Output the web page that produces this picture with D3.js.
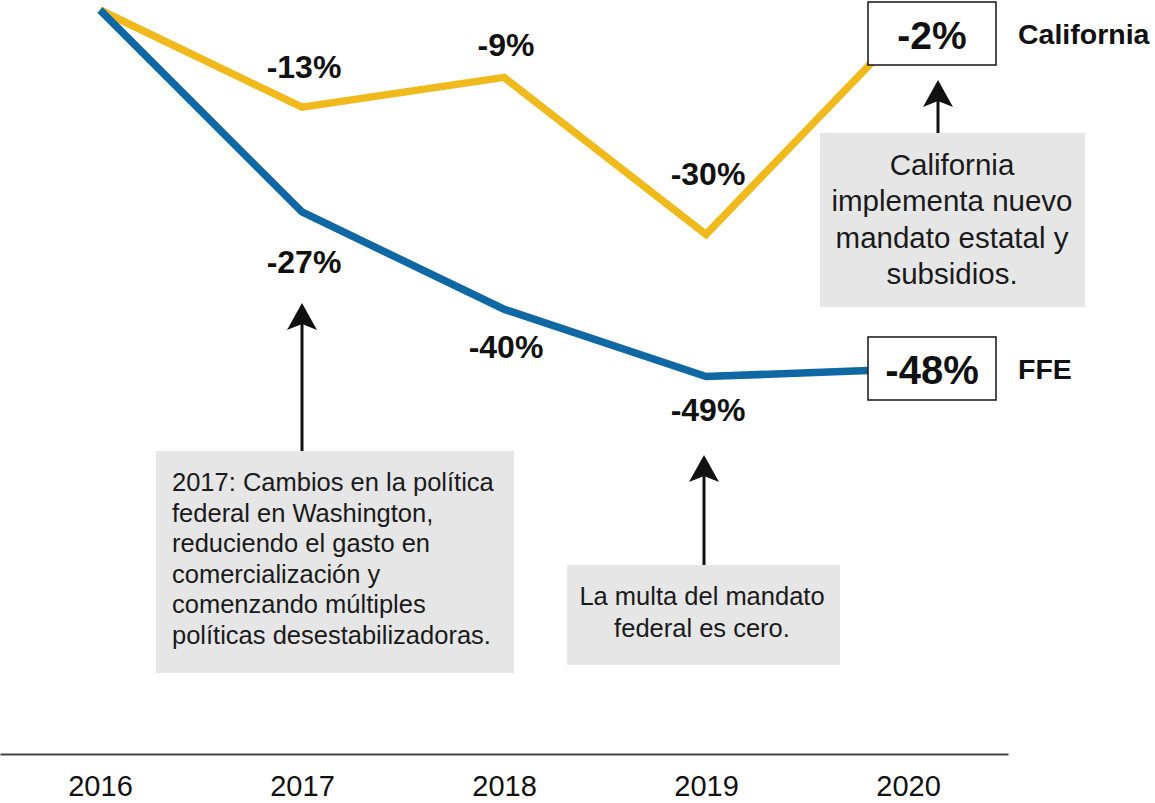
<!DOCTYPE html>
<html>
<head>
<meta charset="utf-8">
<script src="https://cdn.jsdelivr.net/npm/d3@7/dist/d3.min.js"></script>
<style>
  html, body { margin: 0; padding: 0; background: #fff; }
  svg { display: block; font-family: "Liberation Sans", Arial, Helvetica, sans-serif; }
</style>
</head>
<body>
<svg id="chart" width="1155" height="803"></svg>
<script>
const years = ["2016", "2017", "2018", "2019", "2020"];
const seriesNames = ["California", "FFE"];
const californiaValues = [0, -13, -9, -30, -2];
const ffeValues = [0, -27, -40, -49, -48];
const californiaLabels = ["", "-13%", "-9%", "-30%", "-2%"];
const ffeLabels = ["", "-27%", "-40%", "-49%", "-48%"];
const annotationTexts = [
  ["2017: Cambios en la política", "federal en Washington,", "reduciendo el gasto en", "comercialización y", "comenzando múltiples", "políticas desestabilizadoras."],
  ["La multa del mandato", "federal es cero."],
  ["California", "implementa nuevo", "mandato estatal y", "subsidios."]
];

const colors = { California: "#F0BA1C", FFE: "#0F67A4" };
const svg = d3.select("#chart");

const x = d3.scalePoint().domain(years).range([0, 1008]).padding(0.495);
const y = d3.scaleLinear().domain([0, -50]).range([10, 384]);

const line = d3.line().x((d, i) => x(years[i])).y(d => y(d));

// lines
svg.append("path").datum(californiaValues)
  .attr("d", line).attr("fill", "none")
  .attr("stroke", colors.California).attr("stroke-width", 7.5)
  .attr("stroke-linejoin", "miter");
svg.append("path").datum(ffeValues)
  .attr("d", line).attr("fill", "none")
  .attr("stroke", colors.FFE).attr("stroke-width", 7.5)
  .attr("stroke-linejoin", "miter");

// value labels (2017-2019)
const labelOffsetsCal = [0, -40, -32, -60, 0];
const labelOffsetsFfe = [0, 50, 38, 33, 0];
for (let i = 1; i <= 3; i++) {
  svg.append("text")
    .attr("x", x(years[i]) + 2)
    .attr("y", y(californiaValues[i]) + labelOffsetsCal[i])
    .attr("text-anchor", "middle").attr("dominant-baseline", "central")
    .attr("font-weight", "bold").attr("font-size", 32).attr("fill", "#111")
    .text(californiaLabels[i]);
  svg.append("text")
    .attr("x", x(years[i]) + 2)
    .attr("y", y(ffeValues[i]) + labelOffsetsFfe[i])
    .attr("text-anchor", "middle").attr("dominant-baseline", "central")
    .attr("font-weight", "bold").attr("font-size", 32).attr("fill", "#111")
    .text(ffeLabels[i]);
}

// end boxes at 2020
const endBoxes = [
  { label: californiaLabels[4], name: seriesNames[0], cy: 33, fs: 39 },
  { label: ffeLabels[4], name: seriesNames[1], cy: 368, fs: 40 }
];
endBoxes.forEach(b => {
  const cx = x("2020") + 24;
  svg.append("rect")
    .attr("x", cx - 64).attr("y", b.cy - 31)
    .attr("width", 128).attr("height", 63)
    .attr("fill", "#fff").attr("stroke", "#222").attr("stroke-width", 1.6);
  svg.append("text")
    .attr("x", cx).attr("y", b.cy + 2)
    .attr("text-anchor", "middle").attr("dominant-baseline", "central")
    .attr("font-weight", "bold").attr("font-size", b.fs).attr("fill", "#111")
    .text(b.label);
  svg.append("text")
    .attr("x", 1018).attr("y", b.cy + 1)
    .attr("dominant-baseline", "central")
    .attr("font-weight", "bold").attr("font-size", 28.5).attr("fill", "#111")
    .text(b.name);
});

// arrows
function arrow(xc, yTip, yBase) {
  svg.append("line")
    .attr("x1", xc).attr("x2", xc).attr("y1", yTip + 15).attr("y2", yBase)
    .attr("stroke", "#111").attr("stroke-width", 3);
  svg.append("path")
    .attr("d", `M${xc},${yTip} L${xc + 15},${yTip + 27} L${xc},${yTip + 21} L${xc - 15},${yTip + 27} Z`)
    .attr("fill", "#111");
}
arrow(x("2017"), 303, 452);
arrow(x("2019") - 2, 455, 566);
arrow(938, 80, 134);

// annotation boxes
const boxes = [
  { x0: 156, y0: 451, w: 358, h: 222, lines: annotationTexts[0], anchor: "start", tx: 172, ty: 482, lh: 30.5, fs: 25.5 },
  { x0: 567, y0: 565, w: 273, h: 100, lines: annotationTexts[1], anchor: "middle", tx: 702, ty: 596, lh: 32, fs: 25.5 },
  { x0: 820, y0: 133, w: 265, h: 174, lines: annotationTexts[2], anchor: "middle", tx: 952, ty: 164, lh: 36.5, fs: 29.5 }
];
boxes.forEach(b => {
  svg.append("rect")
    .attr("x", b.x0).attr("y", b.y0).attr("width", b.w).attr("height", b.h)
    .attr("fill", "#E6E6E7");
  b.lines.forEach((t, i) => {
    svg.append("text")
      .attr("x", b.tx).attr("y", b.ty + i * b.lh)
      .attr("text-anchor", b.anchor).attr("dominant-baseline", "central")
      .attr("font-size", b.fs).attr("fill", "#1a1a1a")
      .text(t);
  });
});

// x axis
const axis = svg.append("g")
  .attr("transform", "translate(0,754)")
  .call(d3.axisBottom(x).tickSize(0).tickPadding(21));
axis.select(".domain").attr("stroke", "#444").attr("stroke-width", 2.2);
axis.selectAll("text")
  .attr("font-size", 29).attr("fill", "#111")
  .attr("font-family", "'Liberation Sans', Arial, sans-serif");
</script>
</body>
</html>
